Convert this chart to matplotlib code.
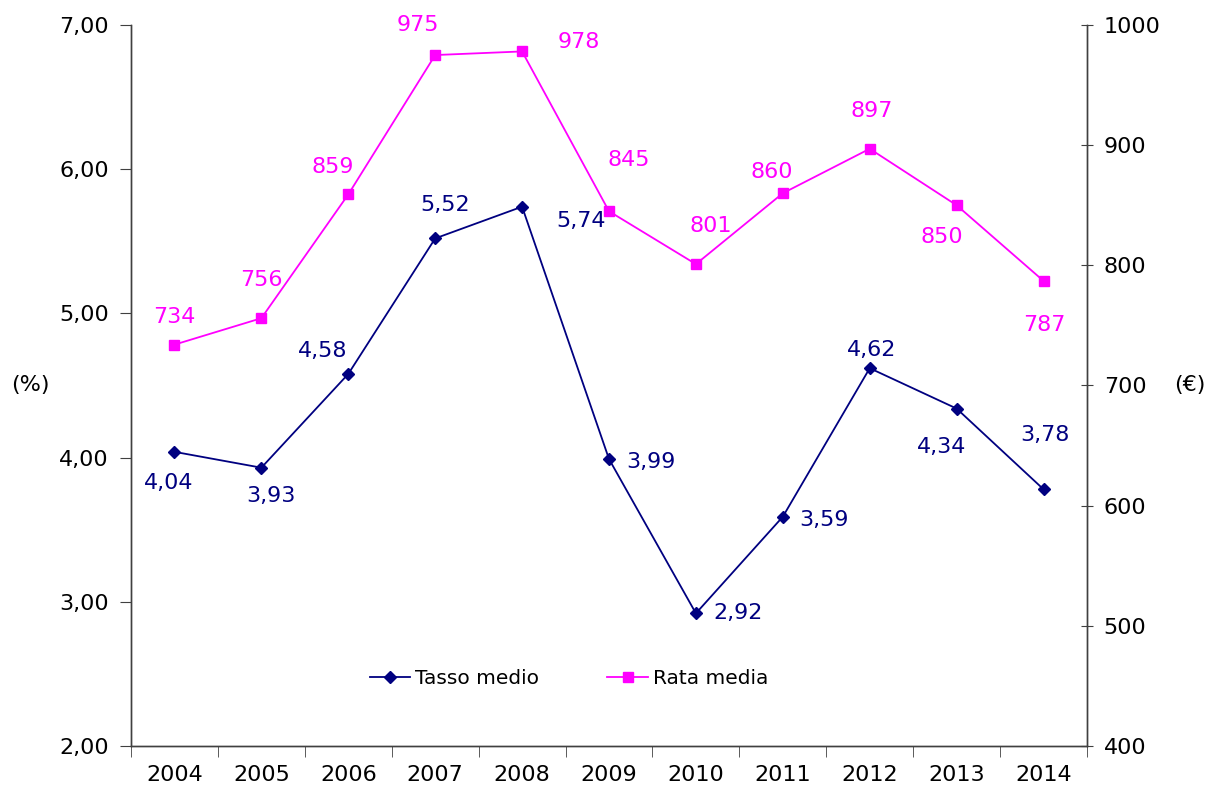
import numpy as np
import matplotlib
matplotlib.use('Agg')
import matplotlib.pyplot as plt
from matplotlib.ticker import FuncFormatter, FixedLocator

years = ['2004', '2005', '2006', '2007', '2008', '2009', '2010', '2011', '2012', '2013', '2014']
tasso = [4.04, 3.93, 4.58, 5.52, 5.74, 3.99, 2.92, 3.59, 4.62, 4.34, 3.78]
rata = [734, 756, 859, 975, 978, 845, 801, 860, 897, 850, 787]

# label offsets in pixels (dx, dy)
tasso_off = [(-6, -31), (10, -28), (-26, 23), (10, 33), (59, -14), (42, -3),
             (42, 0), (41, -3), (2, 18), (-15, -38), (1, 54)]
rata_off = [(0, 28), (0, 38), (-16, 27), (-17, 30), (57, 9), (20, 51),
            (15, 38), (-11, 21), (2, 38), (-15, -32), (1, -44)]

navy = '#000080'
magenta = '#FF00FF'
fs = 16

def main():
    plt.rcParams['font.family'] = 'DejaVu Sans'
    fig = plt.figure(figsize=(12.08, 7.91), dpi=100)
    ax = fig.add_axes([131/1208, 45/791, 956/1208, 721/791])
    ax2 = ax.twinx()

    x = np.arange(len(years))
    l1, = ax.plot(x, tasso, color=navy, lw=1.3, marker='D', ms=6.5,
                  label='Tasso medio', zorder=3)
    l2, = ax2.plot(x, rata, color=magenta, lw=1.3, marker='s', ms=7.5,
                   label='Rata media', zorder=3)

    for xi, v, (dx, dy) in zip(x, tasso, tasso_off):
        ax.annotate(f'{v:.2f}'.replace('.', ','), (xi, v), xytext=(dx, dy),
                    textcoords='offset pixels', ha='center', va='center',
                    color=navy, fontsize=fs)
    for xi, v, (dx, dy) in zip(x, rata, rata_off):
        ax2.annotate(str(v), (xi, v), xytext=(dx, dy),
                     textcoords='offset pixels', ha='center', va='center',
                     color=magenta, fontsize=fs)

    ax.set_xlim(-0.5, len(years) - 0.5)
    ax.set_ylim(2, 7)
    ax2.set_ylim(400, 1000)
    ax.set_yticks(np.arange(2, 7.01, 1))
    ax2.set_yticks(np.arange(400, 1001, 100))
    ax.yaxis.set_major_formatter(FuncFormatter(lambda v, p: f'{v:.2f}'.replace('.', ',')))

    ax.set_xticks(x)
    ax.set_xticklabels(years)
    ax.xaxis.set_minor_locator(FixedLocator(np.arange(-0.5, len(years), 1)))
    ax.tick_params(axis='x', which='major', length=0, pad=14, labelsize=fs)
    ax.tick_params(axis='x', which='minor', length=8, direction='out', color='#404040')
    ax.tick_params(axis='y', length=8, direction='out', labelsize=fs, pad=8, color='#404040')
    ax2.tick_params(axis='y', length=8, direction='inout', labelsize=fs, pad=8, color='#404040')

    for a in (ax, ax2):
        a.spines['top'].set_visible(False)
        for s in ('left', 'right', 'bottom'):
            a.spines[s].set_color('#404040')
            a.spines[s].set_linewidth(1.0)

    fig.text(30/1208, 1 - 385/791, '(%)', fontsize=fs, ha='center', va='center')
    fig.text(1190/1208, 1 - 385/791, '(€)', fontsize=fs, ha='center', va='center')

    ax.legend([l1, l2], ['Tasso medio', 'Rata media'], loc='center',
              bbox_to_anchor=(0.458, 0.094), ncol=2, frameon=False,
              fontsize=14.5, columnspacing=3.4, handlelength=2.0, handletextpad=0.25)

    fig.savefig('out.png', dpi=100)

if __name__ == '__main__':
    main()
